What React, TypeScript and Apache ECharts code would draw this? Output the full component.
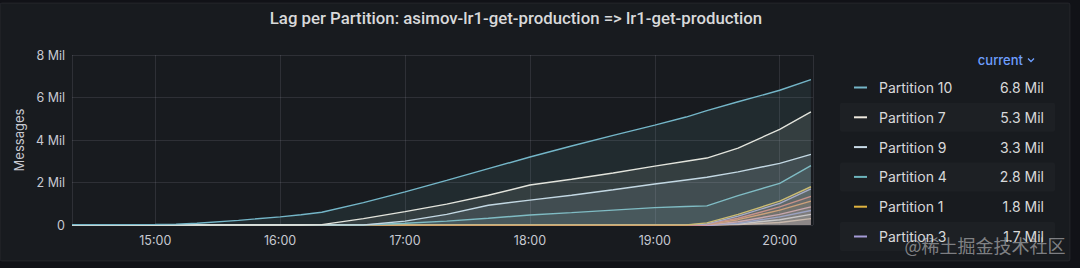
import React, { useEffect, useRef } from "react";
import * as echarts from "echarts";

const TITLE = "Lag per Partition: asimov-lr1-get-production => lr1-get-production";
const TIMES = ["14:20", "14:40", "15:00", "15:10", "15:20", "15:40", "16:00", "16:10", "16:20", "16:40", "17:00", "17:20", "17:40", "18:00", "18:20", "18:40", "19:00", "19:15", "19:25", "19:40", "20:00", "20:15"];
const X_MIN = "14:20";
const X_MAX = "20:16";
const Y_TICKS = [0, 2, 4, 6, 8]; // millions

// values in millions of messages
const P10 = [0.02, 0.02, 0.03, 0.04, 0.08, 0.22, 0.38, 0.48, 0.6, 1.05, 1.56, 2.1, 2.65, 3.2, 3.72, 4.22, 4.7, 5.08, 5.38, 5.8, 6.34, 6.84];
const P7 = [0, 0, 0, 0, 0, 0, 0, 0, 0.02, 0.3, 0.63, 0.98, 1.4, 1.88, 2.15, 2.45, 2.77, 3.0, 3.15, 3.62, 4.5, 5.32];
const P9 = [0, 0, 0, 0, 0, 0, 0, 0, 0, 0, 0.18, 0.5, 0.93, 1.17, 1.4, 1.66, 1.93, 2.12, 2.25, 2.5, 2.9, 3.32];
const P4 = [0, 0, 0, 0, 0, 0, 0, 0, 0, 0, 0.08, 0.18, 0.32, 0.47, 0.58, 0.7, 0.82, 0.87, 0.9, 1.38, 1.96, 2.79];
const P1 = [0, 0, 0, 0, 0, 0, 0, 0, 0, 0, 0, 0, 0, 0, 0, 0, 0, 0, 0.1, 0.5, 1.12, 1.8];
const P3 = [0, 0, 0, 0, 0, 0, 0, 0, 0, 0, 0, 0, 0, 0, 0, 0, 0, 0, 0.05, 0.42, 1.02, 1.7];
const P2 = [0, 0, 0, 0, 0, 0, 0, 0, 0, 0, 0, 0, 0, 0, 0, 0, 0, 0, 0.03, 0.32, 0.85, 1.35];
const P5 = [0, 0, 0, 0, 0, 0, 0, 0, 0, 0, 0, 0, 0, 0, 0, 0, 0, 0, 0.02, 0.25, 0.7, 1.12];
const P6 = [0, 0, 0, 0, 0, 0, 0, 0, 0, 0, 0, 0, 0, 0, 0, 0, 0, 0, 0, 0.15, 0.5, 0.85];
const P8 = [0, 0, 0, 0, 0, 0, 0, 0, 0, 0, 0, 0, 0, 0, 0, 0, 0, 0, 0, 0.08, 0.38, 0.68];
const P0 = [0, 0, 0, 0, 0, 0, 0, 0, 0, 0, 0, 0, 0, 0, 0, 0, 0, 0, 0, 0.05, 0.25, 0.5];
const P11 = [0, 0, 0, 0, 0, 0, 0, 0, 0, 0, 0, 0, 0, 0, 0, 0, 0, 0, 0, 0.02, 0.12, 0.3];

const SERIES_NAMES = ["Partition 10", "Partition 7", "Partition 9", "Partition 4", "Partition 1", "Partition 3", "Partition 2", "Partition 5", "Partition 6", "Partition 8", "Partition 0", "Partition 11"];
const SERIES_VALUES = [P10, P7, P9, P4, P1, P3, P2, P5, P6, P8, P0, P11];
const SERIES_COLORS = ["#74b6c8", "#efe9df", "#c9dbe8", "#6db5bd", "#e0b440", "#a59bd6", "#e06a5c", "#ef8c3e", "#e49ab4", "#6f8ff0", "#f2f2fa", "#f3c4a4"];
const LEGEND_NAMES = ["Partition 10", "Partition 7", "Partition 9", "Partition 4", "Partition 1", "Partition 3"];
const LEGEND_CURRENT = ["6.8 Mil", "5.3 Mil", "3.3 Mil", "2.8 Mil", "1.8 Mil", "1.7 Mil"];

const toMs = (t: string) => {
  const [h, m] = t.split(":").map(Number);
  return new Date(2023, 0, 10, h, m, 0).getTime();
};

const FONT = "Inter, Roboto, sans-serif";

export default function App() {
  const ref = useRef<HTMLDivElement>(null);
  useEffect(() => {
    if (!ref.current) return;
    const chart = echarts.init(ref.current, null, { renderer: "svg" });
    const series = SERIES_NAMES.map((name, i) => ({
      name,
      type: "line",
      data: TIMES.map((t, j) => [toMs(t), SERIES_VALUES[i][j] * 1e6]),
      showSymbol: false,
      smooth: false,
      lineStyle: { width: 1.4, color: SERIES_COLORS[i] },
      itemStyle: { color: SERIES_COLORS[i] },
      areaStyle: { color: SERIES_COLORS[i], opacity: 0.1 },
      z: 20 - i,
    }));
    const rowRects = [1, 3, 5].map((r) => ({
      type: "rect",
      shape: { x: 840, y: 73 + r * 29.8, width: 215, height: 29, r: 2 },
      style: { fill: "rgba(255,255,255,0.025)" },
      z: -5,
    }));
    chart.setOption({
      animation: false,
      backgroundColor: "#111217",
      grid: { left: 72, right: 267, top: 55, bottom: 43 },
      xAxis: {
        type: "time",
        min: toMs(X_MIN),
        max: toMs(X_MAX),
        minInterval: 3600 * 1000,
        maxInterval: 3600 * 1000,
        axisLine: { show: false },
        axisTick: { show: false },
        axisLabel: { formatter: "{HH}:{mm}", color: "#c7c9d1", fontSize: 12.5, fontFamily: FONT, margin: 9 },
        splitLine: { show: true, lineStyle: { color: "rgba(204,204,220,0.12)", width: 1 } },
      },
      yAxis: {
        type: "value",
        min: Y_TICKS[0] * 1e6,
        max: Y_TICKS[Y_TICKS.length - 1] * 1e6,
        interval: (Y_TICKS[1] - Y_TICKS[0]) * 1e6,
        name: "Messages",
        nameLocation: "middle",
        nameGap: 46,
        nameTextStyle: { color: "#c7c9d1", fontSize: 13, fontFamily: FONT },
        axisLine: { show: false },
        axisTick: { show: false },
        axisLabel: {
          color: "#c7c9d1",
          fontSize: 12.5,
          fontFamily: FONT,
          margin: 7,
          formatter: (v: number) => (v === 0 ? "0" : `${v / 1e6} Mil`),
        },
        splitLine: { show: true, lineStyle: { color: "rgba(204,204,220,0.12)", width: 1 } },
      },
      legend: {
        show: true,
        orient: "vertical",
        left: 849,
        top: 74.5,
        data: LEGEND_NAMES,
        icon: "rect",
        itemWidth: 13,
        itemHeight: 2,
        itemGap: 13.8,
        selectedMode: false,
        formatter: (name: string) => {
          const i = LEGEND_NAMES.indexOf(name);
          return `{s|}{n|${name}}{v|${LEGEND_CURRENT[i]}}`;
        },
        textStyle: {
          color: "#d8d9da",
          fontFamily: FONT,
          fontSize: 14,
          lineHeight: 16,
          rich: {
            s: { width: 7 },
            n: { width: 123, fontSize: 14, fontFamily: FONT, color: "#d8d9da", lineHeight: 16 },
            v: { width: 42, align: "right", fontSize: 14, fontFamily: FONT, color: "#d8d9da", lineHeight: 16 },
          },
        },
      },
      graphic: [
        {
          type: "rect",
          shape: { x: 0, y: 3, width: 1070, height: 258, r: 2 },
          style: { fill: "#181b1f", stroke: "rgba(204,204,220,0.08)", lineWidth: 1 },
          z: -10,
          silent: true,
        },
        ...rowRects,
        {
          type: "text",
          x: 516,
          y: 18,
          style: { text: TITLE, fill: "#d8d9da", fontSize: 16.8, fontWeight: 500, fontFamily: "Roboto, sans-serif", align: "center", verticalAlign: "middle" },
        },
        {
          type: "text",
          x: 1023,
          y: 60,
          style: { text: "current", fill: "#6e9fff", fontSize: 13, fontWeight: 500, fontFamily: FONT, align: "right", verticalAlign: "middle" },
        },
        {
          type: "polyline",
          shape: { points: [[1028, 58.5], [1031, 61.5], [1034, 58.5]] },
          style: { stroke: "#6e9fff", lineWidth: 1.3, fill: "none" },
        },
        {
          type: "text",
          x: 985,
          y: 245,
          z: 100,
          style: {
            text: "@稀土掘金技术社区",
            fill: "rgba(215,215,218,0.55)",
            fontSize: 18,
            fontFamily: "'Noto Sans CJK SC', sans-serif",
            align: "center",
            verticalAlign: "middle",
          },
        },
      ],
      series,
    });
    return () => chart.dispose();
  }, []);
  return <div ref={ref} style={{ position: "fixed", left: 0, top: 0, width: 1080, height: 268 }} />;
}
